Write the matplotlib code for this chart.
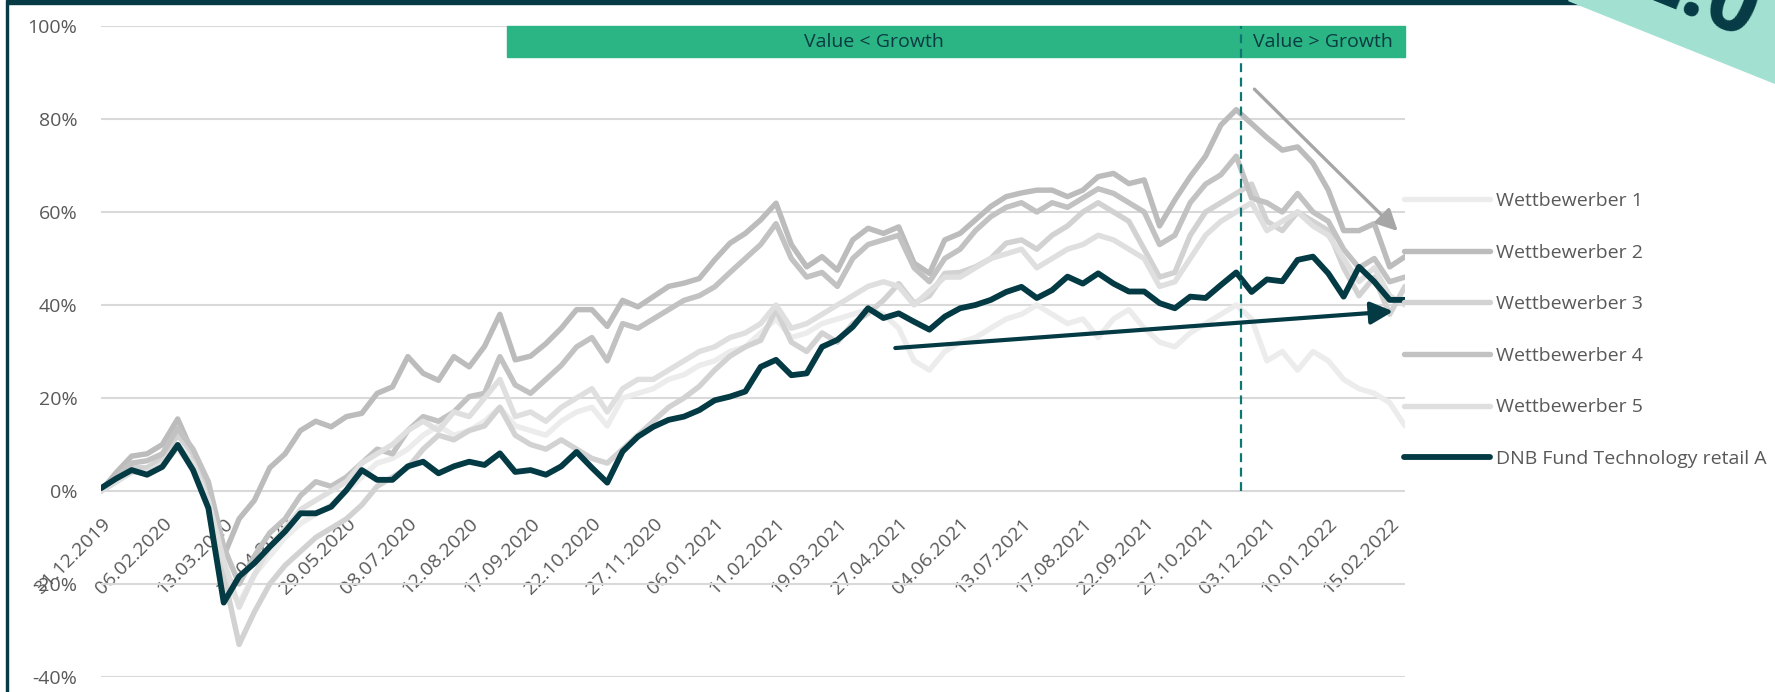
# Performance chart: DNB Fund Technology vs. five competitors (Value vs. Growth phases).

import matplotlib.pyplot as plt
import numpy as np
from matplotlib.patches import Rectangle, Polygon

plt.rcParams['font.family'] = ['Open Sans', 'DejaVu Sans']

tick_labels = ['31.12.2019', '06.02.2020', '13.03.2020', '21.04.2020', '29.05.2020',
               '08.07.2020', '12.08.2020', '17.09.2020', '22.10.2020', '27.11.2020',
               '06.01.2021', '11.02.2021', '19.03.2021', '27.04.2021', '04.06.2021',
               '13.07.2021', '17.08.2021', '22.09.2021', '27.10.2021', '03.12.2021',
               '10.01.2022', '15.02.2022']

# cumulative performance in %, about one value per 6.5 trading days
w1 = [0.0, 3.0, 5.0, 4.0, 6.0, 9.0, 5.0, -3.0, -20.0, -24.0, -18.0, -14.0, -10.0, -7.0, -5.0,
      -3.0, 0.0, 3.0, 6.0, 7.0, 9.0, 12.0, 14.0, 12.0, 13.0, 15.0, 18.0, 14.0, 13.0, 12.0, 15.0,
      17.0, 18.0, 14.0, 20.0, 21.0, 22.0, 24.0, 25.0, 27.0, 28.0, 30.0, 31.0, 34.0, 37.0, 33.0,
      34.0, 36.0, 37.0, 38.0, 39.0, 38.0, 35.0, 28.0, 26.0, 30.0, 32.0, 33.0, 35.0, 37.0, 38.0,
      40.0, 38.0, 36.0, 37.0, 33.0, 37.0, 39.0, 35.0, 32.0, 31.0, 34.0,
      36.0, 38.0, 40.0, 37.0, 28.0, 30.0, 26.0, 30.0, 28.0, 24.0, 22.0, 21.0, 19.0, 14.0]
w2 = [0.0, 4.0, 7.5, 8.0, 10.0, 15.5, 8.0, 1.0, -14.0, -6.0, -2.0, 5.0, 8.0, 13.0, 15.0,
      13.8, 16.0, 16.7, 21.0, 22.4, 28.9, 25.3, 23.8, 28.9, 26.7, 31.1, 38.0, 28.2, 29.0, 31.7, 35.0,
      39.0, 39.0, 35.4, 41.0, 39.6, 41.8, 44.0, 44.7, 45.7, 49.7, 53.3, 55.4, 58.3, 61.9, 53.0,
      48.2, 50.4, 47.5, 54.0, 56.5, 55.4, 56.8, 49.0, 46.8, 54.0, 55.4, 58.3, 61.2, 63.3, 64.1,
      64.7, 64.7, 63.3, 64.7, 67.6, 68.3, 66.1, 66.9, 57.0, 62.6, 67.6,
      72.0, 78.7, 82.0, 79.0, 76.0, 73.3, 74.0, 70.5, 64.7, 56.0, 56.0, 57.5, 48.2, 50.4]
w3 = [0.0, 2.0, 5.0, 5.0, 7.0, 12.0, 8.0, 0.0, -18.0, -33.0, -26.0, -20.0, -16.0, -13.0, -10.0,
      -8.0, -6.0, -3.0, 1.0, 3.0, 5.0, 9.0, 12.0, 11.0, 13.0, 14.0, 18.0, 12.0, 10.0, 9.0, 11.0,
      9.0, 7.0, 6.0, 9.0, 12.0, 15.0, 18.0, 20.0, 22.5, 26.0, 29.0, 31.0, 32.4, 39.0, 32.0,
      30.0, 34.0, 32.0, 36.0, 38.2, 41.0, 44.6, 40.4, 42.0, 46.8, 47.0, 48.2, 50.0, 53.3, 54.0,
      52.0, 55.0, 57.0, 60.0, 62.0, 60.0, 58.0, 52.0, 46.0, 47.0, 55.0,
      60.0, 62.0, 64.0, 66.0, 58.0, 56.0, 60.0, 58.0, 56.0, 48.0, 42.0, 46.0, 38.0, 44.0]
w4 = [0.0, 3.0, 6.0, 6.5, 8.0, 13.5, 9.0, 2.0, -12.0, -20.0, -14.0, -9.0, -6.0, -1.0, 2.0,
      1.0, 3.0, 6.0, 9.0, 8.0, 13.0, 16.0, 15.0, 17.0, 20.3, 21.0, 28.9, 22.8, 21.0, 24.0, 27.0,
      31.0, 33.0, 28.0, 36.0, 35.0, 37.0, 39.0, 41.0, 42.0, 43.9, 47.0, 50.0, 53.0, 57.5, 50.0,
      46.0, 47.0, 44.0, 50.0, 53.0, 54.0, 55.0, 48.0, 45.0, 50.0, 52.0, 56.0, 59.0, 61.0, 62.0,
      60.0, 62.0, 61.0, 63.0, 65.0, 64.0, 62.0, 60.0, 53.0, 55.0, 62.0,
      66.0, 68.0, 72.0, 63.0, 62.0, 60.0, 64.0, 60.0, 58.0, 52.0, 48.0, 50.0, 45.0, 46.0]
w5 = [0.0, 2.0, 4.0, 4.0, 6.0, 10.0, 6.0, -2.0, -15.0, -25.0, -18.0, -12.0, -8.0, -4.0, -2.0,
      0.0, 2.0, 6.0, 8.0, 10.0, 13.0, 15.0, 13.0, 17.0, 16.0, 20.0, 24.0, 16.0, 17.0, 15.0, 18.0,
      20.0, 22.0, 17.0, 22.0, 24.0, 24.0, 26.0, 28.0, 30.0, 31.0, 33.0, 34.0, 36.0, 40.0, 35.0,
      36.0, 38.0, 40.0, 42.0, 44.0, 45.0, 44.0, 40.0, 43.0, 46.0, 46.0, 48.0, 50.0, 51.0, 52.0,
      48.0, 50.0, 52.0, 53.0, 55.0, 54.0, 52.0, 50.0, 44.0, 45.0, 50.0,
      55.0, 58.0, 60.0, 62.0, 56.0, 58.0, 60.0, 57.0, 55.0, 50.0, 45.0, 48.0, 42.0, 40.0]
dnb = [0.6, 2.7, 4.5, 3.5, 5.2, 9.9, 4.5, -3.7, -24.0, -18.4, -15.5, -12.0, -8.7, -4.8, -4.8,
       -3.4, 0.2, 4.5, 2.4, 2.4, 5.3, 6.3, 3.8, 5.3, 6.3, 5.6, 8.1, 4.1, 4.5, 3.5, 5.3,
       8.4, 5.0, 1.8, 8.5, 11.7, 13.8, 15.3, 16.0, 17.4, 19.5, 20.3, 21.4, 26.7, 28.2, 24.9,
       25.3, 31.0, 32.5, 35.3, 39.3, 37.2, 38.2, 36.4, 34.7, 37.5, 39.3, 40.0, 41.1, 42.8, 43.9,
       41.5, 43.2, 46.1, 44.6, 46.8, 44.6, 42.9, 42.9, 40.4, 39.3, 41.8,
       41.5, 44.3, 47.0, 42.8, 45.5, 45.1, 49.7, 50.4, 46.8, 41.8, 48.2, 45.0, 41.1, 41.1]

names = ['Wettbewerber 1', 'Wettbewerber 2', 'Wettbewerber 3', 'Wettbewerber 4',
         'Wettbewerber 5', 'DNB Fund Technology retail A']
colors = ['#ececec', '#bcbcbc', '#d2d2d2', '#c2c2c2', '#dfdfdf', '#033a44']

W, H = 1775, 692
ax_l, ax_r, ax_t, ax_b = 101, 1405, 26, 677   # plot area in pixels

fig = plt.figure(figsize=(W / 100, H / 100), dpi=100)
ax = fig.add_axes([ax_l / W, 1 - ax_b / H, (ax_r - ax_l) / W, (ax_b - ax_t) / H])

x = np.arange(len(dnb)) * 0.25   # 4 samples per label step
series = [w1, w2, w3, w4, w5, dnb]
for vals, name, col in zip(series, names, colors):
    lw = 4.2 if name.startswith('DNB') else 3.9
    ax.plot(x, vals, color=col, lw=lw, label=name, solid_joinstyle='round',
            solid_capstyle='round')

ax.set_xlim(0, x[-1])
ax.set_ylim(-40, 100)
ax.set_yticks(np.arange(-40, 101, 20))
ax.set_yticklabels([f'{v}%' for v in range(-40, 101, 20)])
ax.yaxis.grid(True, color='#d9d9d9', lw=1.5)
ax.set_axisbelow(True)
for s in ax.spines.values():
    s.set_visible(False)
ax.spines['bottom'].set_position(('data', 0))
ax.set_xticks(np.arange(len(tick_labels)))
ax.set_xticklabels(tick_labels)
ax.tick_params(axis='both', length=0, labelsize=14, colors='#595959')
ax.tick_params(axis='y', pad=17)
ax.tick_params(axis='x', pad=17)
for lab in ax.get_xticklabels():
    lab.set_rotation(45)
    lab.set_ha('right')
    lab.set_rotation_mode('anchor')

# Value / Growth phase banner
ax.add_patch(Rectangle((0.311, 0.952), 0.689, 0.048, transform=ax.transAxes,
                       color='#2bb584', zorder=5, clip_on=False))
ax.text(0.593, 0.976, 'Value < Growth', transform=ax.transAxes, ha='center', va='center',
        fontsize=14, color='#0b3b40', zorder=6)
ax.text(0.937, 0.976, 'Value > Growth', transform=ax.transAxes, ha='center', va='center',
        fontsize=14, color='#0b3b40', zorder=6)
ax.plot([0.874, 0.874], [0.2857, 1.0], transform=ax.transAxes, color='#0e7673',
        lw=1.6, ls=(0, (4, 2.5)), zorder=7, clip_on=False)

# trend arrows
ax.annotate('', xy=(0.996, 0.682), xytext=(0.883, 0.906), xycoords='axes fraction',
            arrowprops=dict(arrowstyle='-|>', color='#a6a6a6', lw=2.4, mutation_scale=32),
            zorder=8)
ax.annotate('', xy=(0.993, 0.562), xytext=(0.607, 0.505), xycoords='axes fraction',
            arrowprops=dict(arrowstyle='-|>', color='#033a44', lw=3.0, mutation_scale=34),
            zorder=8)

ax.legend(loc='center left', bbox_to_anchor=(1404 / W, 1 - 330 / H),
          bbox_transform=fig.transFigure, frameon=False, fontsize=14,
          handlelength=4.4, handletextpad=0.35, labelspacing=1.73, borderpad=0,
          borderaxespad=0, labelcolor='#595959')

# page frame and corner badge (its "2.0" runs off the top edge, as in the original)
fig.patches.append(Rectangle((7 / W, 1 - 4 / H), 1, 4 / H, transform=fig.transFigure,
                             color='#063b45', zorder=0))
fig.patches.append(Rectangle((6 / W, 0), 1.5 / W, 1, transform=fig.transFigure,
                             color='#063b45', zorder=0))
fig.patches.append(Polygon([(1568 / W, 1), (1, 1), (1, 1 - 83 / H)], closed=True,
                           transform=fig.transFigure, color='#a2e1d2', zorder=1))
fig.text(1697 / W, 1 + 5 / H, '2.0', rotation=-22, ha='center', va='center',
         fontsize=62, fontweight='bold', color='#063b45')

fig.savefig('out.png', dpi=100)
